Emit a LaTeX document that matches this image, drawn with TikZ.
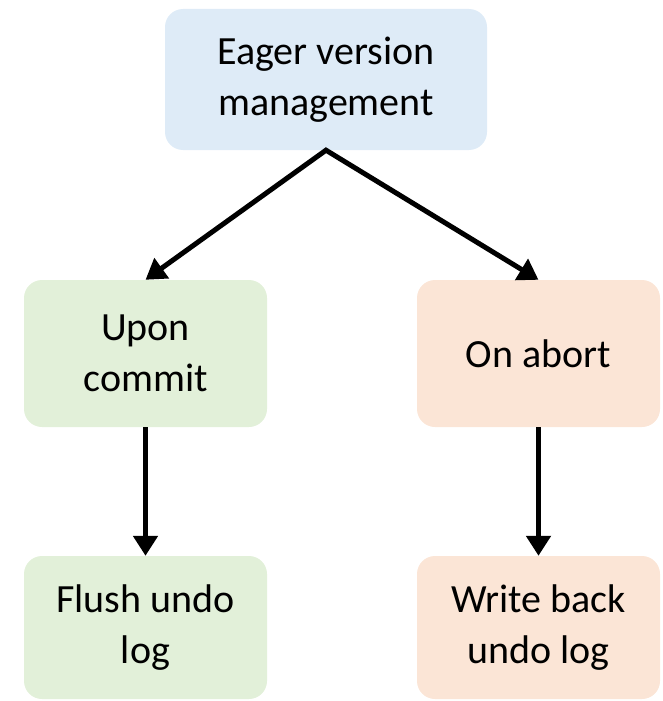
\documentclass[tikz,border=0pt]{standalone}
\usepackage{fontspec}
\setmainfont{Carlito}
\usetikzlibrary{arrows.meta}
\definecolor{boxblue}{HTML}{DEEBF7}
\definecolor{boxgreen}{HTML}{E2F0D9}
\definecolor{boxpeach}{HTML}{FBE5D6}
\begin{document}
\begin{tikzpicture}[x=1pt,y=-1pt,
  card/.style={rounded corners=18pt, draw=none, align=center,
    font=\fontsize{40}{51}\selectfont, inner sep=0pt},
  flow/.style={line width=5pt, line join=miter,
    -{Triangle[width=24pt,length=20pt]}}]
  \useasboundingbox (0,0) rectangle (663,701);
  % version management root
  \node[card, fill=boxblue, minimum width=322pt, minimum height=141pt]
    (top) at (326,79.5) {Eager version\\management};
  % the two outcomes
  \node[card, fill=boxgreen, minimum width=243pt, minimum height=147pt]
    (commit) at (145.5,353.5) {Upon\\commit};
  \node[card, fill=boxpeach, minimum width=243pt, minimum height=147pt]
    (abort) at (538.5,353.5) {On abort};
  % the actions taken
  \node[card, fill=boxgreen, minimum width=243pt, minimum height=143pt]
    (flush) at (145.5,627.5) {Flush undo\\log};
  \node[card, fill=boxpeach, minimum width=243pt, minimum height=143pt]
    (writeback) at (538.5,627.5) {Write back\\undo log};
  % connectors
  \draw[flow, {Triangle[width=24pt,length=20pt]}-{Triangle[width=24pt,length=20pt]}]
    (commit.north) -- (top.south) -- (abort.north);
  \draw[flow] (commit.south) -- (flush.north);
  \draw[flow] (abort.south) -- (writeback.north);
\end{tikzpicture}
\end{document}
